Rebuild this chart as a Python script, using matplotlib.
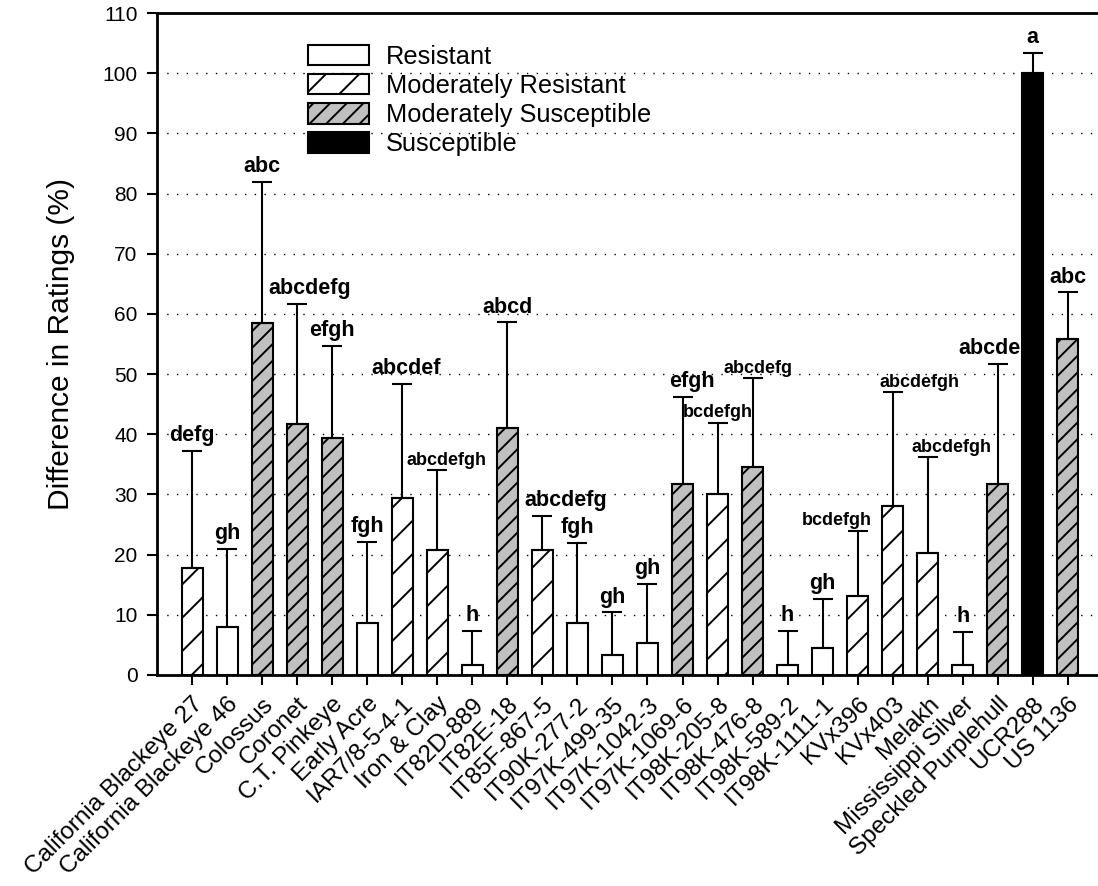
import matplotlib
matplotlib.use("Agg")
import matplotlib.pyplot as plt
from matplotlib.patches import Patch
from matplotlib.transforms import ScaledTranslation
import numpy as np

cultivars = [
    "California Blackeye 27", "California Blackeye 46", "Colossus", "Coronet",
    "C.T. Pinkeye", "Early Acre", "IAR7/8-5-4-1", "Iron & Clay", "IT82D-889",
    "IT82E-18", "IT85F-867-5", "IT90K-277-2", "IT97K-499-35", "IT97K-1042-3",
    "IT97K-1069-6", "IT98K-205-8", "IT98K-476-8", "IT98K-589-2", "IT98K-1111-1",
    "KVx396", "KVx403", "Melakh", "Mississippi Silver", "Speckled Purplehull",
    "UCR288", "US 1136",
]
mean_diff = [17.7, 8.0, 58.5, 41.7, 39.3, 8.6, 29.4, 20.7, 1.7,
             41.0, 20.8, 8.6, 3.4, 5.3, 31.8, 30.1, 34.6, 1.7, 4.5,
             13.2, 28.1, 20.2, 1.7, 31.7, 100.0, 55.9]
error_up = [19.6, 12.9, 23.4, 20.0, 15.4, 13.5, 19.0, 13.3, 5.6,
            17.6, 5.6, 13.4, 7.0, 9.8, 14.4, 11.8, 14.7, 5.6, 8.2,
            10.8, 18.9, 16.0, 5.5, 20.0, 3.4, 7.7]
groups = ["MR", "R", "MS", "MS", "MS", "R", "MR", "MR", "R",
          "MS", "MR", "R", "R", "R", "MS", "MR", "MS", "R", "R",
          "MR", "MR", "MR", "R", "MS", "S", "MS"]
letters = ["defg", "gh", "abc", "abcdefg", "efgh", "fgh", "abcdef", "abcdefgh", "h",
           "abcd", "abcdefg", "fgh", "gh", "gh", "efgh", "bcdefgh", "abcdefg", "h", "gh",
           "bcdefgh", "abcdefgh", "abcdefgh", "h", "abcde", "a", "abc"]
group_names = {"R": "Resistant", "MR": "Moderately Resistant",
               "MS": "Moderately Susceptible", "S": "Susceptible"}
y_ticks = list(range(0, 111, 10))

plt.rcParams['font.family'] = ['Liberation Sans', 'DejaVu Sans']
plt.rcParams['hatch.linewidth'] = 1.4

styles = {
    "R": dict(facecolor="white", hatch=None),
    "MR": dict(facecolor="white", hatch="/"),
    "MS": dict(facecolor="#c0c0c0", hatch="//"),
    "S": dict(facecolor="black", hatch=None),
}

# letters drawn in the smaller type, and sideways shifts (points) of some letters
small_letters = {"Iron & Clay", "IT98K-205-8", "IT98K-476-8", "KVx396", "KVx403", "Melakh"}
letter_shift = {"Coronet": 9, "IAR7/8-5-4-1": 3, "Iron & Clay": 7, "IT85F-867-5": 17,
                "IT97K-1069-6": 7, "IT98K-476-8": 4, "KVx396": -15, "KVx403": 19,
                "Melakh": 17, "Speckled Purplehull": -6}

W, H = 1098, 886
fig = plt.figure(figsize=(W / 100, H / 100), dpi=100)
ax = fig.add_axes([157 / W, 1 - 675 / H, 1 - 157 / W, (675 - 13) / H])

x = np.arange(len(cultivars))
for xi, v, g in zip(x, mean_diff, groups):
    st = styles[g]
    ax.bar(xi, v, width=0.6, facecolor=st["facecolor"], hatch=st["hatch"],
           edgecolor="black", linewidth=1.5, zorder=2)

ax.errorbar(x, mean_diff, yerr=[np.zeros(len(x)), error_up], fmt="none",
            ecolor="black", elinewidth=1.5, capsize=7.5, capthick=1.5, zorder=3)

for xi, v, e, lab, name in zip(x, mean_diff, error_up, letters, cultivars):
    small = name in small_letters
    ax.annotate(lab, (xi, v + e), xytext=(letter_shift.get(name, 0), 4 if small else 7),
                textcoords="offset points", ha="center", va="baseline",
                fontsize=13 if small else 15.5, fontweight="bold", zorder=4)

ax.set_xlim(-1.0, 25.86)
ax.set_ylim(0, 110)
ax.set_yticks(y_ticks)
ax.set_xticks(x)
ax.set_xticklabels(cultivars, rotation=45, ha="right", va="top",
                   rotation_mode="anchor", fontsize=17.5)
offset = ScaledTranslation(5 / 72, 0, fig.dpi_scale_trans)
for lbl in ax.get_xticklabels():
    lbl.set_transform(lbl.get_transform() + offset)
ax.tick_params(axis="x", direction="out", length=7, width=1.5, pad=6)
ax.tick_params(axis="y", direction="out", length=7, width=1.5, labelsize=15, pad=7)

for s in ["left", "bottom", "top"]:
    ax.spines[s].set_linewidth(2)
ax.spines["right"].set_visible(False)

ax.yaxis.grid(True, linestyle=(0, (1, 6)), color="black", linewidth=1.0)
ax.set_axisbelow(True)

ax.set_ylabel("Difference in Ratings (%)", fontsize=21.5)
ax.yaxis.set_label_coords(-0.087, 0.5)

handles = [Patch(facecolor=styles[k]["facecolor"], hatch=styles[k]["hatch"],
                 edgecolor="black", linewidth=1.5, label=group_names[k])
           for k in ["R", "MR", "MS", "S"]]
ax.legend(handles=handles, loc="upper left", bbox_to_anchor=(308 / W, 1 - 45 / H),
          bbox_transform=fig.transFigure, frameon=False, fontsize=18.3,
          handlelength=2.4, handleheight=0.85, handletextpad=0.66,
          labelspacing=0.2, borderpad=0, borderaxespad=0)

fig.savefig("out.png", dpi=100)
